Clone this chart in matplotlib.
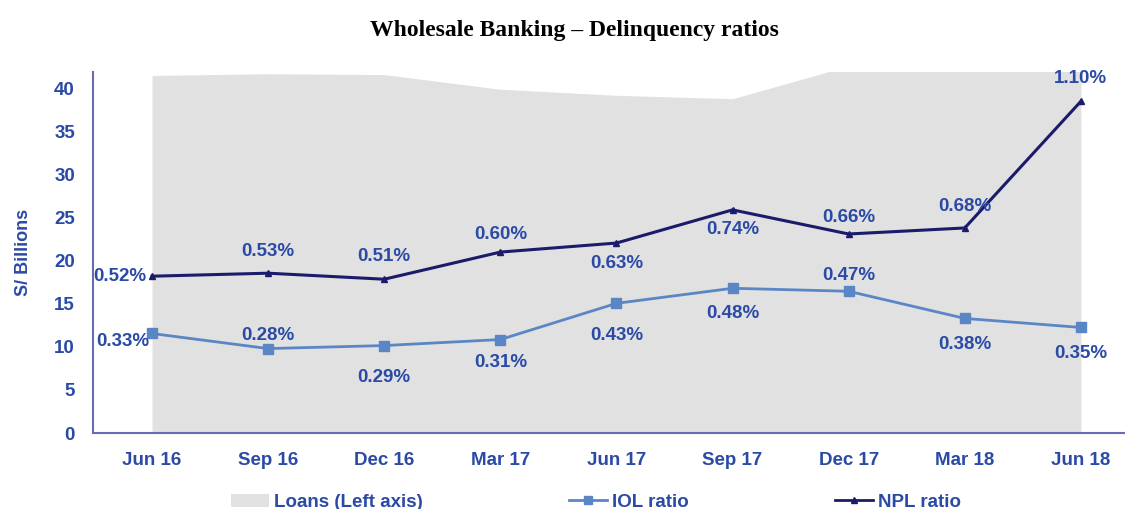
import numpy as np
import matplotlib.pyplot as plt
from matplotlib.patches import Patch
from matplotlib.lines import Line2D

# data
quarters = ["Jun 16", "Sep 16", "Dec 16", "Mar 17", "Jun 17", "Sep 17", "Dec 17", "Mar 18", "Jun 18"]
loans = [41.5, 41.7, 41.6, 39.9, 39.2, 38.8, 42.6, 43.5, 44.0]   # S/ Billions
iol_ratio = [0.33, 0.28, 0.29, 0.31, 0.43, 0.48, 0.47, 0.38, 0.35]  # %
npl_ratio = [0.52, 0.53, 0.51, 0.60, 0.63, 0.74, 0.66, 0.68, 1.10]  # %

# label offsets (px): (dx, dy), dy positive = up
npl_off = [(-32, 0), (0, 22), (0, 23), (0, 18), (0, -20), (0, -20), (0, 16), (0, 21), (0, 23)]
iol_off = [(-29, -8), (0, 13), (0, -32), (0, -23), (0, -32), (0, -25), (0, 16), (0, -26), (0, -26)]

txt_blue = "#2a4aa6"
npl_col = "#1b1b6b"
iol_col = "#5b86c5"
spine_col = "#6a6ab2"

plt.rcParams['font.family'] = ['Liberation Sans', 'DejaVu Sans']

fig = plt.figure(figsize=(11.25, 5.09), dpi=100)
ax = fig.add_axes([0.0827, 0.1493, 0.9173, 0.7092])
x = np.arange(len(quarters))

ax.fill_between(x, loans, 0, color="#e1e1e1", lw=0)
ax.set_xlim(-0.508, 8.38)
ax.set_ylim(0, 41.9)
ax.set_yticks(range(0, 41, 5))
ax.set_xticks(x)
ax.set_xticklabels(quarters)
ax.tick_params(length=0, labelsize=13.5, labelcolor=txt_blue)
ax.tick_params(axis="x", pad=14)
ax.tick_params(axis="y", pad=13)
for lbl in ax.get_xticklabels() + ax.get_yticklabels():
    lbl.set_fontweight("bold")
for s in ["top", "right"]:
    ax.spines[s].set_visible(False)
for s in ["left", "bottom"]:
    ax.spines[s].set_color(spine_col)
    ax.spines[s].set_linewidth(1.5)
ax.set_ylabel("S/ Billions", color=txt_blue, fontsize=13, fontweight="bold", labelpad=16)

# ratios on hidden secondary axis
ax2 = ax.twinx()
ax2.set_ylim(0, 41.9 / 35.0)
ax2.axis("off")
ax2.plot(x, iol_ratio, color=iol_col, lw=2, marker="s", ms=6.5)
ax2.plot(x, npl_ratio, color=npl_col, lw=2.2, marker="^", ms=5)

for i in range(len(x)):
    dx, dy = npl_off[i]
    ax2.annotate(f"{npl_ratio[i]:.2f}%", (x[i], npl_ratio[i]), xytext=(dx * 0.72, dy * 0.72),
                 textcoords="offset points", ha="center", va="center",
                 color=txt_blue, fontsize=13.5, fontweight="bold")
    dx, dy = iol_off[i]
    ax2.annotate(f"{iol_ratio[i]:.2f}%", (x[i], iol_ratio[i]), xytext=(dx * 0.72, dy * 0.72),
                 textcoords="offset points", ha="center", va="center",
                 color=txt_blue, fontsize=13.5, fontweight="bold")

fig.text(0.511, 0.94, "Wholesale Banking \u2013 Delinquency ratios", ha="center", va="center",
         fontsize=17, fontweight="bold", family="Liberation Serif")

handles = [Patch(facecolor="#e1e1e1", edgecolor="none"),
           Line2D([], [], color=iol_col, lw=2, marker="s", ms=6),
           Line2D([], [], color=npl_col, lw=2, marker="^", ms=5)]
leg = fig.legend(handles, ["Loans (Left axis)", "IOL ratio", "NPL ratio"], loc="center",
                 bbox_to_anchor=(0.53, 0.013), ncol=3, frameon=False, columnspacing=7.8,
                 handlelength=2.0, handletextpad=0.3, prop={"size": 13.5, "weight": "bold"})
for t in leg.get_texts():
    t.set_color(txt_blue)

fig.savefig("out.png", dpi=100)
